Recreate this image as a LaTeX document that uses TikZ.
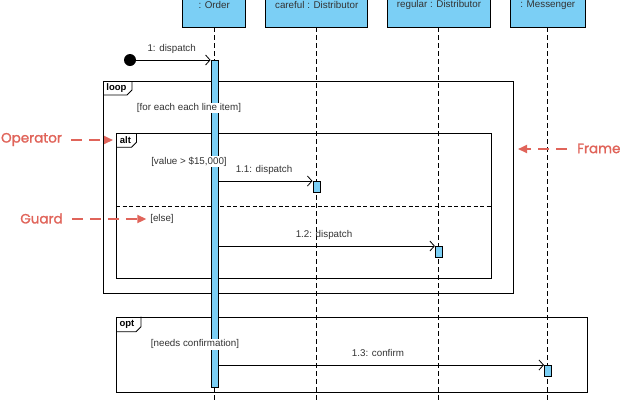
\documentclass[tikz,border=0pt]{standalone}
\usepackage{fontspec}
\setmainfont{Liberation Sans}
\newfontfamily\annfont{Poppins}[FakeBold=1.5]
\usetikzlibrary{arrows.meta,calc}
\definecolor{boxblue}{HTML}{7BCFF5}
\definecolor{annred}{HTML}{E0645A}
\definecolor{txtgray}{HTML}{333333}
\begin{document}
\begin{tikzpicture}[x=1pt,y=-1pt,
  txt/.style={font=\fontsize{9.8}{11}\selectfont, text=txtgray, inner sep=0.8pt},
  guard/.style={txt, fill=white},
  head/.style={draw, fill=boxblue, line width=0.8pt, minimum height=43, anchor=south, font=\fontsize{9.8}{11}\selectfont, text=txtgray, inner sep=0},
  life/.style={dash pattern=on 5pt off 3pt, line width=0.7pt},
  act/.style={draw, fill=boxblue, line width=0.7pt, minimum width=7.3, inner sep=0, anchor=north},
  msg/.style={line width=0.7pt, -{Straight Barb[length=4.5pt,width=10pt,line width=0.8pt]}},
  fframe/.style={draw, line width=0.8pt, anchor=north west, inner sep=0},
  tablabel/.style={font=\bfseries\fontsize{9.5}{10}\selectfont, inner sep=0},
  ann/.style={font=\annfont\fontsize{13.5}{15}\selectfont, text=annred, inner sep=0},
  annarrow/.style={draw=annred, line width=2pt, dash pattern=on 11pt off 7pt, -{Triangle[length=9pt,width=8pt]}},
]
\clip (0,0) rectangle (620,400);
% frames
\node[fframe, minimum width=409.7, minimum height=212.3] (loop) at (103,81) {};
\draw[line width=0.8pt] ($(loop.north west)+(29,0)$) -- ++(0,9) -- ++(-5,5) -- ++(-24,0);
\node[tablabel] (looptag) at ($(loop.north west)+(13.5,7)$) {loop};
\node[fframe, minimum width=375, minimum height=145] (alt) at (116,133.3) {};
\draw[line width=0.8pt] ($(alt.north west)+(20.5,0)$) -- ++(0,9) -- ++(-5,5) -- ++(-15.5,0);
\node[tablabel] (alttag) at ($(alt.north west)+(9.5,7)$) {alt};
\draw[dash pattern=on 4pt off 2.5pt, line width=0.7pt] (alt.west |- 0,206.7) coordinate (divl) -- (alt.east |- 0,206.7) coordinate (divr);
\node[fframe, minimum width=470.7, minimum height=75.6] (opt) at (116,316.7) {};
\draw[line width=0.8pt] ($(opt.north west)+(25,0)$) -- ++(0,10) -- ++(-5,5) -- ++(-20,0);
\node[tablabel] (opttag) at ($(opt.north west)+(11,7.5)$) {opt};
% lifeline heads
\node[head, minimum width=63] (order) at (214.2,27.3) {: Order};
\node[head, minimum width=102] (careful) at (316.7,27.3) {careful : Distributor};
\node[head, minimum width=103.4] (regular) at (439,27.3) {regular : Distributor};
\node[head, minimum width=75.7] (messenger) at (547.8,27.3) {: Messenger};
\coordinate (orderend) at (214.2,400);
\coordinate (carefulend) at (316.5,400);
\coordinate (regularend) at (438.8,400);
\coordinate (messengerend) at (547.8,400);
\draw[life] (order.south) -- (orderend);
\draw[life] (careful.south -| carefulend) -- (carefulend);
\draw[life] (regular.south -| regularend) -- (regularend);
\draw[life] (messenger.south) -- (messengerend);
% activations
\node[act, minimum height=326.7] (oact) at (214.6,60) {};
\node[act, minimum height=11] (cact) at (316.5,181) {};
\node[act, minimum height=10.7] (ract) at (438.9,246) {};
\node[act, minimum height=10.7] (mact) at (548,365) {};
% guards (drawn over the activation bar)
\node[guard] (g1) at (189,108) {[for each each line item]};
\node[guard] (g2) at (189,161.7) {[value > \$15,000]};
\node[guard] (g3) at (162,219) {[else]};
\node[guard] (g4) at (195,344.3) {[needs confirmation]};
% messages
\node[circle, fill=black, minimum size=12, inner sep=0] (start) at (130,60) {};
\draw[msg] (start) -- (oact.north west);
\node[txt] (m1) at (171.7,49) {1: dispatch};
\draw[msg] (oact.east |- cact.north west) -- (cact.north west);
\node[txt] (m11) at (264,170) {1.1: dispatch};
\draw[msg] (oact.east |- ract.north west) -- (ract.north west);
\node[txt] (m12) at (324,235) {1.2: dispatch};
\draw[msg] (oact.east |- mact.north west) -- (mact.north west);
\node[txt] (m13) at (378,353.3) {1.3: confirm};
% annotations
\node[ann] (operator) at (31.5,139.5) {Operator};
\coordinate (opend) at (113,140);
\draw[annarrow] ($(operator.east |- opend)+(9,0)$) -- (opend);
\node[ann] (guardlbl) at (41.5,218.5) {Guard};
\draw[annarrow] ($(guardlbl.east |- g3.west)+(9,0)$) -- ($(g3.west)+(-3,0)$);
\node[ann, anchor=west] (framelbl) at (577,148.5) {Frame};
\draw[annarrow] ($(framelbl.west |- 0,149)+(-10,0)$) -- ($(loop.east |- 0,149)+(4.5,0)$);
\end{tikzpicture}
\end{document}
